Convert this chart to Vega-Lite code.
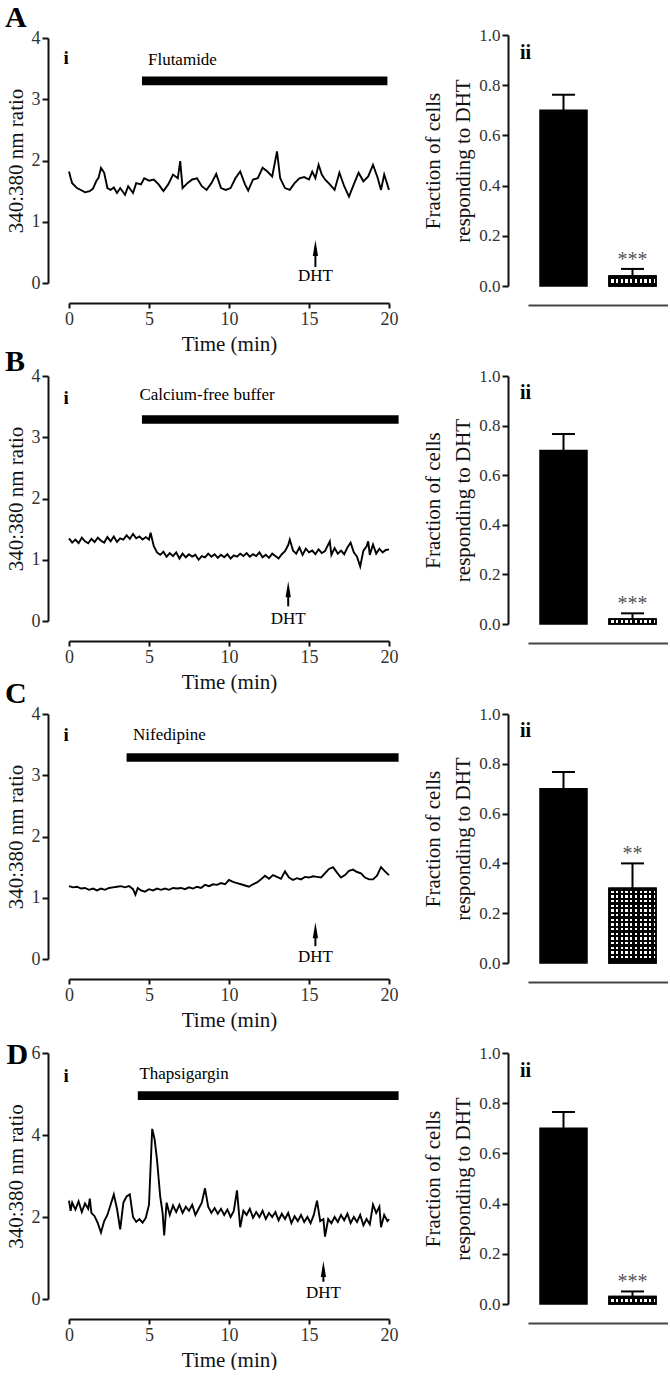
{
"$schema": "https://vega.github.io/schema/vega-lite/v6.json",
"padding": {"left": 5, "top": 3, "right": 0, "bottom": 0},
"columns": 2,
"bounds": "flush",
"center": true,
"spacing": {"row": 90, "column": 139},
"config": {
  "font": "Liberation Serif",
  "view": {"stroke": null},
  "axis": {"grid": false, "domainColor": "#111", "tickColor": "#111", "domainWidth": 2, "tickWidth": 2, "labelColor": "#333", "titleColor": "#111", "titleFontWeight": "normal", "labelFont": "Liberation Serif", "titleFont": "Liberation Serif"},
  "text": {"font": "Liberation Serif", "color": "#000"}
},
"datasets": {
  "treat": [
    {"panel": "A", "drug": "Flutamide", "start": 4.56, "end": 19.9, "dht": 15.4},
    {"panel": "B", "drug": "Calcium-free buffer", "start": 4.56, "end": 20.6, "dht": 13.7},
    {"panel": "C", "drug": "Nifedipine", "start": 3.6, "end": 20.6, "dht": 15.4},
    {"panel": "D", "drug": "Thapsigargin", "start": 4.3, "end": 20.6, "dht": 15.9}
  ],
  "bars": [
    {"panel": "A", "group": "Control", "value": 0.70, "upper": 0.762, "sig": ""},
    {"panel": "A", "group": "Treated", "value": 0.04, "upper": 0.068, "sig": "***"},
    {"panel": "B", "group": "Control", "value": 0.70, "upper": 0.766, "sig": ""},
    {"panel": "B", "group": "Treated", "value": 0.02, "upper": 0.043, "sig": "***"},
    {"panel": "C", "group": "Control", "value": 0.70, "upper": 0.767, "sig": ""},
    {"panel": "C", "group": "Treated", "value": 0.30, "upper": 0.40, "sig": "**"},
    {"panel": "D", "group": "Control", "value": 0.70, "upper": 0.765, "sig": ""},
    {"panel": "D", "group": "Treated", "value": 0.03, "upper": 0.05, "sig": "***"}
  ],
  "traceA": [
    {"t":0,"r":1.82},{"t":0.1,"r":1.72},{"t":0.2,"r":1.63},{"t":0.5,"r":1.55},{"t":0.8,"r":1.51},{"t":1.0,"r":1.48},{"t":1.3,"r":1.50},{"t":1.5,"r":1.54},{"t":1.7,"r":1.66},{"t":1.85,"r":1.72},{"t":2.0,"r":1.88},{"t":2.2,"r":1.80},{"t":2.4,"r":1.55},{"t":2.6,"r":1.52},{"t":2.8,"r":1.56},{"t":3.0,"r":1.47},{"t":3.2,"r":1.55},{"t":3.5,"r":1.44},{"t":3.7,"r":1.58},{"t":4.0,"r":1.47},{"t":4.2,"r":1.63},{"t":4.5,"r":1.61},{"t":4.7,"r":1.71},{"t":5.0,"r":1.67},{"t":5.3,"r":1.69},{"t":5.6,"r":1.61},{"t":5.9,"r":1.50},{"t":6.2,"r":1.61},{"t":6.5,"r":1.77},{"t":6.8,"r":1.71},{"t":6.95,"r":1.99},{"t":7.1,"r":1.55},{"t":7.4,"r":1.63},{"t":7.7,"r":1.69},{"t":8.0,"r":1.71},{"t":8.3,"r":1.58},{"t":8.6,"r":1.52},{"t":8.9,"r":1.63},{"t":9.2,"r":1.78},{"t":9.5,"r":1.55},{"t":9.8,"r":1.52},{"t":10.1,"r":1.55},{"t":10.4,"r":1.71},{"t":10.7,"r":1.82},{"t":11.0,"r":1.61},{"t":11.2,"r":1.51},{"t":11.5,"r":1.69},{"t":11.8,"r":1.71},{"t":12.1,"r":1.88},{"t":12.4,"r":1.82},{"t":12.7,"r":1.74},{"t":13.0,"r":2.15},{"t":13.2,"r":1.71},{"t":13.5,"r":1.55},{"t":13.8,"r":1.52},{"t":14.1,"r":1.63},{"t":14.4,"r":1.71},{"t":14.7,"r":1.73},{"t":15.0,"r":1.69},{"t":15.2,"r":1.82},{"t":15.4,"r":1.71},{"t":15.6,"r":1.93},{"t":15.8,"r":1.77},{"t":16.0,"r":1.69},{"t":16.3,"r":1.61},{"t":16.6,"r":1.52},{"t":16.9,"r":1.80},{"t":17.2,"r":1.58},{"t":17.5,"r":1.41},{"t":17.8,"r":1.61},{"t":18.1,"r":1.80},{"t":18.4,"r":1.66},{"t":18.7,"r":1.74},{"t":19.0,"r":1.93},{"t":19.3,"r":1.71},{"t":19.5,"r":1.52},{"t":19.7,"r":1.77},{"t":20.0,"r":1.52}
  ],
  "traceB": [
    {"t":0,"r":1.35},{"t":0.2,"r":1.28},{"t":0.4,"r":1.33},{"t":0.6,"r":1.27},{"t":0.8,"r":1.36},{"t":1.0,"r":1.30},{"t":1.2,"r":1.27},{"t":1.4,"r":1.34},{"t":1.6,"r":1.29},{"t":1.8,"r":1.36},{"t":2.0,"r":1.31},{"t":2.2,"r":1.28},{"t":2.4,"r":1.37},{"t":2.6,"r":1.30},{"t":2.8,"r":1.38},{"t":3.0,"r":1.29},{"t":3.2,"r":1.35},{"t":3.4,"r":1.33},{"t":3.6,"r":1.40},{"t":3.8,"r":1.34},{"t":4.0,"r":1.42},{"t":4.2,"r":1.35},{"t":4.4,"r":1.38},{"t":4.6,"r":1.33},{"t":4.8,"r":1.37},{"t":5.0,"r":1.33},{"t":5.1,"r":1.44},{"t":5.3,"r":1.22},{"t":5.5,"r":1.12},{"t":5.7,"r":1.08},{"t":5.9,"r":1.13},{"t":6.1,"r":1.05},{"t":6.3,"r":1.11},{"t":6.5,"r":1.06},{"t":6.7,"r":1.12},{"t":6.9,"r":1.02},{"t":7.1,"r":1.10},{"t":7.3,"r":1.04},{"t":7.5,"r":1.09},{"t":7.7,"r":1.05},{"t":7.9,"r":1.08},{"t":8.1,"r":1.00},{"t":8.3,"r":1.06},{"t":8.5,"r":1.04},{"t":8.7,"r":1.10},{"t":8.9,"r":1.05},{"t":9.1,"r":1.09},{"t":9.3,"r":1.03},{"t":9.5,"r":1.08},{"t":9.7,"r":1.04},{"t":9.9,"r":1.09},{"t":10.1,"r":1.02},{"t":10.3,"r":1.07},{"t":10.5,"r":1.05},{"t":10.7,"r":1.10},{"t":10.9,"r":1.06},{"t":11.1,"r":1.11},{"t":11.3,"r":1.05},{"t":11.5,"r":1.09},{"t":11.7,"r":1.06},{"t":11.9,"r":1.12},{"t":12.1,"r":1.04},{"t":12.3,"r":1.08},{"t":12.5,"r":1.03},{"t":12.7,"r":1.10},{"t":12.9,"r":1.06},{"t":13.1,"r":1.02},{"t":13.3,"r":1.09},{"t":13.5,"r":1.14},{"t":13.7,"r":1.24},{"t":13.8,"r":1.33},{"t":14.0,"r":1.15},{"t":14.2,"r":1.10},{"t":14.4,"r":1.20},{"t":14.6,"r":1.08},{"t":14.8,"r":1.18},{"t":15.0,"r":1.12},{"t":15.2,"r":1.15},{"t":15.4,"r":1.09},{"t":15.6,"r":1.17},{"t":15.8,"r":1.11},{"t":16.0,"r":1.14},{"t":16.3,"r":1.30},{"t":16.4,"r":1.08},{"t":16.6,"r":1.19},{"t":16.8,"r":1.10},{"t":17.0,"r":1.15},{"t":17.2,"r":1.09},{"t":17.4,"r":1.20},{"t":17.6,"r":1.28},{"t":17.8,"r":1.12},{"t":18.0,"r":1.05},{"t":18.2,"r":0.89},{"t":18.4,"r":1.15},{"t":18.6,"r":1.22},{"t":18.7,"r":1.30},{"t":18.8,"r":1.08},{"t":19.0,"r":1.25},{"t":19.2,"r":1.10},{"t":19.4,"r":1.18},{"t":19.6,"r":1.12},{"t":19.8,"r":1.16},{"t":20.0,"r":1.17}
  ],
  "traceC": [
    {"t":0,"r":1.19},{"t":0.25,"r":1.17},{"t":0.5,"r":1.18},{"t":0.75,"r":1.15},{"t":1.0,"r":1.16},{"t":1.25,"r":1.13},{"t":1.5,"r":1.15},{"t":1.75,"r":1.12},{"t":2.0,"r":1.15},{"t":2.25,"r":1.13},{"t":2.5,"r":1.16},{"t":2.75,"r":1.17},{"t":3.0,"r":1.18},{"t":3.25,"r":1.19},{"t":3.5,"r":1.17},{"t":3.75,"r":1.19},{"t":4.0,"r":1.14},{"t":4.15,"r":1.05},{"t":4.3,"r":1.16},{"t":4.5,"r":1.12},{"t":4.75,"r":1.10},{"t":5.0,"r":1.14},{"t":5.25,"r":1.12},{"t":5.5,"r":1.15},{"t":5.75,"r":1.13},{"t":6.0,"r":1.15},{"t":6.25,"r":1.13},{"t":6.5,"r":1.16},{"t":6.75,"r":1.15},{"t":7.0,"r":1.16},{"t":7.25,"r":1.14},{"t":7.5,"r":1.17},{"t":7.75,"r":1.15},{"t":8.0,"r":1.18},{"t":8.25,"r":1.16},{"t":8.5,"r":1.21},{"t":8.75,"r":1.19},{"t":9.0,"r":1.22},{"t":9.25,"r":1.21},{"t":9.5,"r":1.24},{"t":9.75,"r":1.22},{"t":10.0,"r":1.29},{"t":10.25,"r":1.26},{"t":10.5,"r":1.24},{"t":10.75,"r":1.22},{"t":11.0,"r":1.20},{"t":11.25,"r":1.18},{"t":11.5,"r":1.22},{"t":11.75,"r":1.25},{"t":12.0,"r":1.30},{"t":12.25,"r":1.36},{"t":12.5,"r":1.31},{"t":12.75,"r":1.37},{"t":13.0,"r":1.34},{"t":13.25,"r":1.31},{"t":13.5,"r":1.43},{"t":13.75,"r":1.33},{"t":14.0,"r":1.29},{"t":14.25,"r":1.32},{"t":14.5,"r":1.30},{"t":14.75,"r":1.34},{"t":15.0,"r":1.33},{"t":15.25,"r":1.35},{"t":15.5,"r":1.34},{"t":15.75,"r":1.33},{"t":16.0,"r":1.40},{"t":16.25,"r":1.47},{"t":16.5,"r":1.50},{"t":16.75,"r":1.41},{"t":17.0,"r":1.33},{"t":17.25,"r":1.37},{"t":17.5,"r":1.44},{"t":17.75,"r":1.46},{"t":18.0,"r":1.42},{"t":18.25,"r":1.40},{"t":18.5,"r":1.33},{"t":18.75,"r":1.30},{"t":19.0,"r":1.30},{"t":19.25,"r":1.36},{"t":19.5,"r":1.50},{"t":19.75,"r":1.43},{"t":20.0,"r":1.37}
  ],
  "traceD": [
    {"t":0,"r":2.40},{"t":0.1,"r":2.15},{"t":0.2,"r":2.35},{"t":0.4,"r":2.18},{"t":0.6,"r":2.38},{"t":0.8,"r":2.12},{"t":1.0,"r":2.33},{"t":1.2,"r":2.20},{"t":1.3,"r":2.45},{"t":1.4,"r":2.10},{"t":1.6,"r":2.02},{"t":1.8,"r":1.85},{"t":2.0,"r":1.62},{"t":2.2,"r":1.90},{"t":2.4,"r":2.05},{"t":2.6,"r":2.30},{"t":2.8,"r":2.55},{"t":3.0,"r":2.20},{"t":3.2,"r":1.70},{"t":3.4,"r":2.35},{"t":3.6,"r":2.50},{"t":3.8,"r":2.55},{"t":4.0,"r":2.00},{"t":4.2,"r":1.88},{"t":4.4,"r":1.95},{"t":4.6,"r":1.86},{"t":4.8,"r":1.98},{"t":5.0,"r":2.30},{"t":5.2,"r":4.15},{"t":5.35,"r":3.90},{"t":5.5,"r":3.40},{"t":5.7,"r":2.50},{"t":5.85,"r":2.10},{"t":5.95,"r":1.55},{"t":6.1,"r":2.35},{"t":6.3,"r":2.05},{"t":6.5,"r":2.28},{"t":6.7,"r":2.12},{"t":6.9,"r":2.30},{"t":7.1,"r":2.10},{"t":7.3,"r":2.25},{"t":7.5,"r":2.15},{"t":7.7,"r":2.30},{"t":7.9,"r":2.05},{"t":8.1,"r":2.20},{"t":8.3,"r":2.35},{"t":8.5,"r":2.70},{"t":8.7,"r":2.25},{"t":8.9,"r":2.10},{"t":9.1,"r":2.22},{"t":9.3,"r":2.08},{"t":9.5,"r":2.20},{"t":9.7,"r":2.05},{"t":9.9,"r":2.18},{"t":10.1,"r":2.00},{"t":10.3,"r":2.15},{"t":10.5,"r":2.65},{"t":10.7,"r":1.75},{"t":10.9,"r":2.15},{"t":11.1,"r":2.05},{"t":11.3,"r":2.20},{"t":11.5,"r":1.98},{"t":11.7,"r":2.12},{"t":11.9,"r":2.00},{"t":12.1,"r":2.15},{"t":12.3,"r":1.95},{"t":12.5,"r":2.10},{"t":12.7,"r":2.00},{"t":12.9,"r":2.12},{"t":13.1,"r":1.92},{"t":13.3,"r":2.08},{"t":13.5,"r":1.95},{"t":13.7,"r":2.10},{"t":13.9,"r":1.85},{"t":14.1,"r":2.02},{"t":14.3,"r":1.90},{"t":14.5,"r":2.05},{"t":14.7,"r":1.88},{"t":14.9,"r":2.00},{"t":15.1,"r":1.85},{"t":15.3,"r":2.05},{"t":15.5,"r":2.40},{"t":15.7,"r":1.90},{"t":15.9,"r":1.95},{"t":16.0,"r":1.52},{"t":16.2,"r":1.95},{"t":16.4,"r":1.85},{"t":16.6,"r":2.00},{"t":16.8,"r":1.88},{"t":17.0,"r":2.05},{"t":17.2,"r":1.92},{"t":17.4,"r":2.08},{"t":17.6,"r":1.85},{"t":17.8,"r":2.00},{"t":18.0,"r":1.88},{"t":18.2,"r":2.05},{"t":18.4,"r":1.80},{"t":18.6,"r":1.95},{"t":18.8,"r":1.82},{"t":19.0,"r":2.30},{"t":19.2,"r":2.10},{"t":19.4,"r":2.25},{"t":19.5,"r":1.75},{"t":19.7,"r":2.05},{"t":19.9,"r":1.90},{"t":20.0,"r":1.95}
  ]
},
"concat": [
  {
    "width": 320, "height": 245,
    "layer": [
      {"data": {"name": "traceA"}, "mark": {"type": "line", "color": "#000", "strokeWidth": 1.9},
       "encoding": {
         "x": {"field": "t", "type": "quantitative", "scale": {"domain": [0, 20], "nice": false, "zero": false}, "axis": {"values": [0, 5, 10, 15, 20], "offset": 20, "title": "Time (min)", "tickSize": 5, "labelPadding": 2, "titlePadding": 5, "labelFlush": false, "labelOverlap": false, "labelFontSize": 18, "titleFontSize": 21}},
         "y": {"field": "r", "type": "quantitative", "scale": {"domain": [0, 4], "nice": false}, "axis": {"values": [0, 1, 2, 3, 4], "format": "d", "offset": 21, "title": "340:380 nm ratio", "tickSize": 6, "labelPadding": 2, "titlePadding": 5, "labelFlush": false, "labelFontSize": 18, "titleFontSize": 21}}}},
      {"data": {"name": "treat"}, "transform": [{"filter": "datum.panel === 'A'"}],
       "layer": [
         {"mark": {"type": "rect", "color": "#000"}, "encoding": {"x": {"field": "start", "type": "quantitative"}, "x2": {"field": "end"}, "y": {"datum": 3.23}, "y2": {"datum": 3.37}}},
         {"mark": {"type": "text", "align": "left", "baseline": "middle", "fontSize": 17, "dx": 6}, "encoding": {"x": {"field": "start", "type": "quantitative"}, "y": {"datum": 3.64}, "text": {"field": "drug"}}},
         {"mark": {"type": "rule", "strokeWidth": 2, "color": "#000"}, "encoding": {"x": {"field": "dht", "type": "quantitative"}, "y": {"datum": 0.26}, "y2": {"datum": 0.57}}},
         {"mark": {"type": "point", "shape": "M0,-1L0.33,1L-0.33,1Z", "filled": true, "color": "#000", "size": 256, "opacity": 1}, "encoding": {"x": {"field": "dht", "type": "quantitative"}, "y": {"datum": 0.57}}},
         {"mark": {"type": "text", "text": "DHT", "fontSize": 17, "baseline": "middle"}, "encoding": {"x": {"field": "dht", "type": "quantitative"}, "y": {"datum": 0.11}}},
         {"mark": {"type": "text", "text": "i", "fontSize": 19, "fontWeight": "bold", "align": "left", "baseline": "middle"}, "encoding": {"x": {"datum": -0.35}, "y": {"datum": 3.67}}},
         {"mark": {"type": "text", "text": "A", "fontSize": 30, "fontWeight": "bold", "align": "left", "baseline": "middle"}, "encoding": {"x": {"datum": -4.0}, "y": {"datum": 4.32}}}
       ]}
    ]
  },
  {
    "width": 140, "height": 251,
    "data": {"name": "bars"}, "transform": [{"filter": "datum.panel === 'A'"}],
    "encoding": {"x": {"field": "group", "type": "nominal", "scale": {"domain": ["Control", "Treated"], "paddingInner": 0.319, "paddingOuter": 0.174}, "axis": {"title": null, "labels": false, "ticks": false, "domain": true, "offset": 19, "domainColor": "#444", "domainWidth": 2}}},
    "layer": [
      {"mark": {"type": "bar", "stroke": "#000", "strokeWidth": 1.5}, "encoding": {"y": {"field": "value", "type": "quantitative", "scale": {"domain": [0, 1], "nice": false}, "axis": {"values": [0, 0.2, 0.4, 0.6, 0.8, 1], "format": ".1f", "offset": 20, "title": ["Fraction of cells", "responding to DHT"], "titleLineHeight": 30, "tickSize": 6, "labelPadding": 2, "titlePadding": 5, "labelFontSize": 17, "titleFontSize": 21, "labelFlush": false}}, "color": {"field": "group", "type": "nominal", "scale": {"domain": ["Control", "Treated"], "range": ["#000", "#fff"]}, "legend": null}}},
      {"transform": [{"filter": "datum.group === 'Treated'"}], "mark": {"type": "bar", "fill": {"gradient": "linear", "x1": 0, "y1": 0, "x2": 1, "y2": 0, "stops": [{"offset": 0, "color": "#000"}, {"offset": 0.05, "color": "#000"}, {"offset": 0.05, "color": "rgba(0,0,0,0)"}, {"offset": 0.1, "color": "rgba(0,0,0,0)"}, {"offset": 0.1, "color": "#000"}, {"offset": 0.15, "color": "#000"}, {"offset": 0.15, "color": "rgba(0,0,0,0)"}, {"offset": 0.2, "color": "rgba(0,0,0,0)"}, {"offset": 0.2, "color": "#000"}, {"offset": 0.25, "color": "#000"}, {"offset": 0.25, "color": "rgba(0,0,0,0)"}, {"offset": 0.3, "color": "rgba(0,0,0,0)"}, {"offset": 0.3, "color": "#000"}, {"offset": 0.35, "color": "#000"}, {"offset": 0.35, "color": "rgba(0,0,0,0)"}, {"offset": 0.4, "color": "rgba(0,0,0,0)"}, {"offset": 0.4, "color": "#000"}, {"offset": 0.45, "color": "#000"}, {"offset": 0.45, "color": "rgba(0,0,0,0)"}, {"offset": 0.5, "color": "rgba(0,0,0,0)"}, {"offset": 0.5, "color": "#000"}, {"offset": 0.55, "color": "#000"}, {"offset": 0.55, "color": "rgba(0,0,0,0)"}, {"offset": 0.6, "color": "rgba(0,0,0,0)"}, {"offset": 0.6, "color": "#000"}, {"offset": 0.65, "color": "#000"}, {"offset": 0.65, "color": "rgba(0,0,0,0)"}, {"offset": 0.7, "color": "rgba(0,0,0,0)"}, {"offset": 0.7, "color": "#000"}, {"offset": 0.75, "color": "#000"}, {"offset": 0.75, "color": "rgba(0,0,0,0)"}, {"offset": 0.8, "color": "rgba(0,0,0,0)"}, {"offset": 0.8, "color": "#000"}, {"offset": 0.85, "color": "#000"}, {"offset": 0.85, "color": "rgba(0,0,0,0)"}, {"offset": 0.9, "color": "rgba(0,0,0,0)"}, {"offset": 0.9, "color": "#000"}, {"offset": 0.95, "color": "#000"}, {"offset": 0.95, "color": "rgba(0,0,0,0)"}, {"offset": 1, "color": "rgba(0,0,0,0)"}]}}, "encoding": {"y": {"field": "value", "type": "quantitative"}}},
      {"transform": [{"filter": "datum.group === 'Treated'"}], "mark": {"type": "bar", "stroke": "#000", "strokeWidth": 1.5, "fill": {"gradient": "linear", "x1": 0, "y1": 0, "x2": 0, "y2": 1, "stops": [{"offset": 0, "color": "#000"}, {"offset": 0.3, "color": "#000"}, {"offset": 0.3, "color": "rgba(0,0,0,0)"}, {"offset": 0.7, "color": "rgba(0,0,0,0)"}, {"offset": 0.7, "color": "#000"}, {"offset": 1, "color": "#000"}]}}, "encoding": {"y": {"field": "value", "type": "quantitative"}}},
      {"mark": {"type": "rule", "strokeWidth": 2, "color": "#000"}, "encoding": {"y": {"field": "value", "type": "quantitative"}, "y2": {"field": "upper"}}},
      {"mark": {"type": "tick", "size": 23, "thickness": 2, "color": "#000", "opacity": 1}, "encoding": {"y": {"field": "upper", "type": "quantitative"}}},
      {"transform": [{"filter": "datum.sig != ''"}], "mark": {"type": "text", "fontSize": 20, "color": "#555", "baseline": "alphabetic", "dy": -3}, "encoding": {"y": {"field": "upper", "type": "quantitative"}, "text": {"field": "sig"}}},
      {"transform": [{"filter": "datum.group === 'Control'"}], "mark": {"type": "text", "text": "ii", "fontSize": 20, "fontWeight": "bold", "align": "left", "baseline": "middle", "dx": -43.5}, "encoding": {"y": {"datum": 0.93}}}
    ]
  },
  {
    "width": 320, "height": 245,
    "layer": [
      {"data": {"name": "traceB"}, "mark": {"type": "line", "color": "#000", "strokeWidth": 1.9},
       "encoding": {
         "x": {"field": "t", "type": "quantitative", "scale": {"domain": [0, 20], "nice": false, "zero": false}, "axis": {"values": [0, 5, 10, 15, 20], "offset": 20, "title": "Time (min)", "tickSize": 5, "labelPadding": 2, "titlePadding": 5, "labelFlush": false, "labelOverlap": false, "labelFontSize": 18, "titleFontSize": 21}},
         "y": {"field": "r", "type": "quantitative", "scale": {"domain": [0, 4], "nice": false}, "axis": {"values": [0, 1, 2, 3, 4], "format": "d", "offset": 21, "title": "340:380 nm ratio", "tickSize": 6, "labelPadding": 2, "titlePadding": 5, "labelFlush": false, "labelFontSize": 18, "titleFontSize": 21}}}},
      {"data": {"name": "treat"}, "transform": [{"filter": "datum.panel === 'B'"}],
       "layer": [
         {"mark": {"type": "rect", "color": "#000"}, "encoding": {"x": {"field": "start", "type": "quantitative"}, "x2": {"field": "end"}, "y": {"datum": 3.22}, "y2": {"datum": 3.36}}},
         {"mark": {"type": "text", "align": "left", "baseline": "middle", "fontSize": 17, "dx": -2.5}, "encoding": {"x": {"field": "start", "type": "quantitative"}, "y": {"datum": 3.69}, "text": {"field": "drug"}}},
         {"mark": {"type": "rule", "strokeWidth": 2, "color": "#000"}, "encoding": {"x": {"field": "dht", "type": "quantitative"}, "y": {"datum": 0.24}, "y2": {"datum": 0.52}}},
         {"mark": {"type": "point", "shape": "M0,-1L0.33,1L-0.33,1Z", "filled": true, "color": "#000", "size": 256, "opacity": 1}, "encoding": {"x": {"field": "dht", "type": "quantitative"}, "y": {"datum": 0.52}}},
         {"mark": {"type": "text", "text": "DHT", "fontSize": 17, "baseline": "middle"}, "encoding": {"x": {"field": "dht", "type": "quantitative"}, "y": {"datum": 0.03}}},
         {"mark": {"type": "text", "text": "i", "fontSize": 19, "fontWeight": "bold", "align": "left", "baseline": "middle"}, "encoding": {"x": {"datum": -0.35}, "y": {"datum": 3.64}}},
         {"mark": {"type": "text", "text": "B", "fontSize": 30, "fontWeight": "bold", "align": "left", "baseline": "middle"}, "encoding": {"x": {"datum": -4.0}, "y": {"datum": 4.23}}}
       ]}
    ]
  },
  {
    "width": 140, "height": 248,
    "data": {"name": "bars"}, "transform": [{"filter": "datum.panel === 'B'"}],
    "encoding": {"x": {"field": "group", "type": "nominal", "scale": {"domain": ["Control", "Treated"], "paddingInner": 0.319, "paddingOuter": 0.174}, "axis": {"title": null, "labels": false, "ticks": false, "domain": true, "offset": 19, "domainColor": "#444", "domainWidth": 2}}},
    "layer": [
      {"mark": {"type": "bar", "stroke": "#000", "strokeWidth": 1.5}, "encoding": {"y": {"field": "value", "type": "quantitative", "scale": {"domain": [0, 1], "nice": false}, "axis": {"values": [0, 0.2, 0.4, 0.6, 0.8, 1], "format": ".1f", "offset": 20, "title": ["Fraction of cells", "responding to DHT"], "titleLineHeight": 30, "tickSize": 6, "labelPadding": 2, "titlePadding": 5, "labelFontSize": 17, "titleFontSize": 21, "labelFlush": false}}, "color": {"field": "group", "type": "nominal", "scale": {"domain": ["Control", "Treated"], "range": ["#000", "#fff"]}, "legend": null}}},
      {"transform": [{"filter": "datum.group === 'Treated'"}], "mark": {"type": "bar", "fill": {"gradient": "linear", "x1": 0, "y1": 0, "x2": 1, "y2": 0, "stops": [{"offset": 0, "color": "#000"}, {"offset": 0.05, "color": "#000"}, {"offset": 0.05, "color": "rgba(0,0,0,0)"}, {"offset": 0.1, "color": "rgba(0,0,0,0)"}, {"offset": 0.1, "color": "#000"}, {"offset": 0.15, "color": "#000"}, {"offset": 0.15, "color": "rgba(0,0,0,0)"}, {"offset": 0.2, "color": "rgba(0,0,0,0)"}, {"offset": 0.2, "color": "#000"}, {"offset": 0.25, "color": "#000"}, {"offset": 0.25, "color": "rgba(0,0,0,0)"}, {"offset": 0.3, "color": "rgba(0,0,0,0)"}, {"offset": 0.3, "color": "#000"}, {"offset": 0.35, "color": "#000"}, {"offset": 0.35, "color": "rgba(0,0,0,0)"}, {"offset": 0.4, "color": "rgba(0,0,0,0)"}, {"offset": 0.4, "color": "#000"}, {"offset": 0.45, "color": "#000"}, {"offset": 0.45, "color": "rgba(0,0,0,0)"}, {"offset": 0.5, "color": "rgba(0,0,0,0)"}, {"offset": 0.5, "color": "#000"}, {"offset": 0.55, "color": "#000"}, {"offset": 0.55, "color": "rgba(0,0,0,0)"}, {"offset": 0.6, "color": "rgba(0,0,0,0)"}, {"offset": 0.6, "color": "#000"}, {"offset": 0.65, "color": "#000"}, {"offset": 0.65, "color": "rgba(0,0,0,0)"}, {"offset": 0.7, "color": "rgba(0,0,0,0)"}, {"offset": 0.7, "color": "#000"}, {"offset": 0.75, "color": "#000"}, {"offset": 0.75, "color": "rgba(0,0,0,0)"}, {"offset": 0.8, "color": "rgba(0,0,0,0)"}, {"offset": 0.8, "color": "#000"}, {"offset": 0.85, "color": "#000"}, {"offset": 0.85, "color": "rgba(0,0,0,0)"}, {"offset": 0.9, "color": "rgba(0,0,0,0)"}, {"offset": 0.9, "color": "#000"}, {"offset": 0.95, "color": "#000"}, {"offset": 0.95, "color": "rgba(0,0,0,0)"}, {"offset": 1, "color": "rgba(0,0,0,0)"}]}}, "encoding": {"y": {"field": "value", "type": "quantitative"}}},
      {"transform": [{"filter": "datum.group === 'Treated'"}], "mark": {"type": "bar", "stroke": "#000", "strokeWidth": 1.5, "fill": {"gradient": "linear", "x1": 0, "y1": 0, "x2": 0, "y2": 1, "stops": [{"offset": 0, "color": "#000"}, {"offset": 0.25, "color": "#000"}, {"offset": 0.25, "color": "rgba(0,0,0,0)"}, {"offset": 0.75, "color": "rgba(0,0,0,0)"}, {"offset": 0.75, "color": "#000"}, {"offset": 1, "color": "#000"}]}}, "encoding": {"y": {"field": "value", "type": "quantitative"}}},
      {"mark": {"type": "rule", "strokeWidth": 2, "color": "#000"}, "encoding": {"y": {"field": "value", "type": "quantitative"}, "y2": {"field": "upper"}}},
      {"mark": {"type": "tick", "size": 23, "thickness": 2, "color": "#000", "opacity": 1}, "encoding": {"y": {"field": "upper", "type": "quantitative"}}},
      {"transform": [{"filter": "datum.sig != ''"}], "mark": {"type": "text", "fontSize": 20, "color": "#555", "baseline": "alphabetic", "dy": -3}, "encoding": {"y": {"field": "upper", "type": "quantitative"}, "text": {"field": "sig"}}},
      {"transform": [{"filter": "datum.group === 'Control'"}], "mark": {"type": "text", "text": "ii", "fontSize": 20, "fontWeight": "bold", "align": "left", "baseline": "middle", "dx": -43.5}, "encoding": {"y": {"datum": 0.93}}}
    ]
  },
  {
    "width": 320, "height": 245,
    "layer": [
      {"data": {"name": "traceC"}, "mark": {"type": "line", "color": "#000", "strokeWidth": 1.9},
       "encoding": {
         "x": {"field": "t", "type": "quantitative", "scale": {"domain": [0, 20], "nice": false, "zero": false}, "axis": {"values": [0, 5, 10, 15, 20], "offset": 20, "title": "Time (min)", "tickSize": 5, "labelPadding": 2, "titlePadding": 5, "labelFlush": false, "labelOverlap": false, "labelFontSize": 18, "titleFontSize": 21}},
         "y": {"field": "r", "type": "quantitative", "scale": {"domain": [0, 4], "nice": false}, "axis": {"values": [0, 1, 2, 3, 4], "format": "d", "offset": 21, "title": "340:380 nm ratio", "tickSize": 6, "labelPadding": 2, "titlePadding": 5, "labelFlush": false, "labelFontSize": 18, "titleFontSize": 21}}}},
      {"data": {"name": "treat"}, "transform": [{"filter": "datum.panel === 'C'"}],
       "layer": [
         {"mark": {"type": "rect", "color": "#000"}, "encoding": {"x": {"field": "start", "type": "quantitative"}, "x2": {"field": "end"}, "y": {"datum": 3.22}, "y2": {"datum": 3.36}}},
         {"mark": {"type": "text", "align": "left", "baseline": "middle", "fontSize": 17, "dx": 6.4}, "encoding": {"x": {"field": "start", "type": "quantitative"}, "y": {"datum": 3.66}, "text": {"field": "drug"}}},
         {"mark": {"type": "rule", "strokeWidth": 2, "color": "#000"}, "encoding": {"x": {"field": "dht", "type": "quantitative"}, "y": {"datum": 0.21}, "y2": {"datum": 0.47}}},
         {"mark": {"type": "point", "shape": "M0,-1L0.33,1L-0.33,1Z", "filled": true, "color": "#000", "size": 256, "opacity": 1}, "encoding": {"x": {"field": "dht", "type": "quantitative"}, "y": {"datum": 0.47}}},
         {"mark": {"type": "text", "text": "DHT", "fontSize": 17, "baseline": "middle"}, "encoding": {"x": {"field": "dht", "type": "quantitative"}, "y": {"datum": 0.03}}},
         {"mark": {"type": "text", "text": "i", "fontSize": 19, "fontWeight": "bold", "align": "left", "baseline": "middle"}, "encoding": {"x": {"datum": -0.35}, "y": {"datum": 3.66}}},
         {"mark": {"type": "text", "text": "C", "fontSize": 30, "fontWeight": "bold", "align": "left", "baseline": "middle"}, "encoding": {"x": {"datum": -4.0}, "y": {"datum": 4.33}}}
       ]}
    ]
  },
  {
    "width": 140, "height": 249,
    "data": {"name": "bars"}, "transform": [{"filter": "datum.panel === 'C'"}],
    "encoding": {"x": {"field": "group", "type": "nominal", "scale": {"domain": ["Control", "Treated"], "paddingInner": 0.319, "paddingOuter": 0.174}, "axis": {"title": null, "labels": false, "ticks": false, "domain": true, "offset": 19, "domainColor": "#444", "domainWidth": 2}}},
    "layer": [
      {"mark": {"type": "bar", "stroke": "#000", "strokeWidth": 1.5}, "encoding": {"y": {"field": "value", "type": "quantitative", "scale": {"domain": [0, 1], "nice": false}, "axis": {"values": [0, 0.2, 0.4, 0.6, 0.8, 1], "format": ".1f", "offset": 20, "title": ["Fraction of cells", "responding to DHT"], "titleLineHeight": 30, "tickSize": 6, "labelPadding": 2, "titlePadding": 5, "labelFontSize": 17, "titleFontSize": 21, "labelFlush": false}}, "color": {"field": "group", "type": "nominal", "scale": {"domain": ["Control", "Treated"], "range": ["#000", "#fff"]}, "legend": null}}},
      {"transform": [{"filter": "datum.group === 'Treated'"}], "mark": {"type": "bar", "fill": {"gradient": "linear", "x1": 0, "y1": 0, "x2": 1, "y2": 0, "stops": [{"offset": 0, "color": "#000"}, {"offset": 0.05, "color": "#000"}, {"offset": 0.05, "color": "rgba(0,0,0,0)"}, {"offset": 0.1, "color": "rgba(0,0,0,0)"}, {"offset": 0.1, "color": "#000"}, {"offset": 0.15, "color": "#000"}, {"offset": 0.15, "color": "rgba(0,0,0,0)"}, {"offset": 0.2, "color": "rgba(0,0,0,0)"}, {"offset": 0.2, "color": "#000"}, {"offset": 0.25, "color": "#000"}, {"offset": 0.25, "color": "rgba(0,0,0,0)"}, {"offset": 0.3, "color": "rgba(0,0,0,0)"}, {"offset": 0.3, "color": "#000"}, {"offset": 0.35, "color": "#000"}, {"offset": 0.35, "color": "rgba(0,0,0,0)"}, {"offset": 0.4, "color": "rgba(0,0,0,0)"}, {"offset": 0.4, "color": "#000"}, {"offset": 0.45, "color": "#000"}, {"offset": 0.45, "color": "rgba(0,0,0,0)"}, {"offset": 0.5, "color": "rgba(0,0,0,0)"}, {"offset": 0.5, "color": "#000"}, {"offset": 0.55, "color": "#000"}, {"offset": 0.55, "color": "rgba(0,0,0,0)"}, {"offset": 0.6, "color": "rgba(0,0,0,0)"}, {"offset": 0.6, "color": "#000"}, {"offset": 0.65, "color": "#000"}, {"offset": 0.65, "color": "rgba(0,0,0,0)"}, {"offset": 0.7, "color": "rgba(0,0,0,0)"}, {"offset": 0.7, "color": "#000"}, {"offset": 0.75, "color": "#000"}, {"offset": 0.75, "color": "rgba(0,0,0,0)"}, {"offset": 0.8, "color": "rgba(0,0,0,0)"}, {"offset": 0.8, "color": "#000"}, {"offset": 0.85, "color": "#000"}, {"offset": 0.85, "color": "rgba(0,0,0,0)"}, {"offset": 0.9, "color": "rgba(0,0,0,0)"}, {"offset": 0.9, "color": "#000"}, {"offset": 0.95, "color": "#000"}, {"offset": 0.95, "color": "rgba(0,0,0,0)"}, {"offset": 1, "color": "rgba(0,0,0,0)"}]}}, "encoding": {"y": {"field": "value", "type": "quantitative"}}},
      {"transform": [{"filter": "datum.group === 'Treated'"}], "mark": {"type": "bar", "stroke": "#000", "strokeWidth": 1.5, "fill": {"gradient": "linear", "x1": 0, "y1": 0, "x2": 0, "y2": 1, "stops": [{"offset": 0, "color": "#000"}, {"offset": 0.03125, "color": "#000"}, {"offset": 0.03125, "color": "rgba(0,0,0,0)"}, {"offset": 0.0625, "color": "rgba(0,0,0,0)"}, {"offset": 0.0625, "color": "#000"}, {"offset": 0.09375, "color": "#000"}, {"offset": 0.09375, "color": "rgba(0,0,0,0)"}, {"offset": 0.125, "color": "rgba(0,0,0,0)"}, {"offset": 0.125, "color": "#000"}, {"offset": 0.15625, "color": "#000"}, {"offset": 0.15625, "color": "rgba(0,0,0,0)"}, {"offset": 0.1875, "color": "rgba(0,0,0,0)"}, {"offset": 0.1875, "color": "#000"}, {"offset": 0.21875, "color": "#000"}, {"offset": 0.21875, "color": "rgba(0,0,0,0)"}, {"offset": 0.25, "color": "rgba(0,0,0,0)"}, {"offset": 0.25, "color": "#000"}, {"offset": 0.28125, "color": "#000"}, {"offset": 0.28125, "color": "rgba(0,0,0,0)"}, {"offset": 0.3125, "color": "rgba(0,0,0,0)"}, {"offset": 0.3125, "color": "#000"}, {"offset": 0.34375, "color": "#000"}, {"offset": 0.34375, "color": "rgba(0,0,0,0)"}, {"offset": 0.375, "color": "rgba(0,0,0,0)"}, {"offset": 0.375, "color": "#000"}, {"offset": 0.40625, "color": "#000"}, {"offset": 0.40625, "color": "rgba(0,0,0,0)"}, {"offset": 0.4375, "color": "rgba(0,0,0,0)"}, {"offset": 0.4375, "color": "#000"}, {"offset": 0.46875, "color": "#000"}, {"offset": 0.46875, "color": "rgba(0,0,0,0)"}, {"offset": 0.5, "color": "rgba(0,0,0,0)"}, {"offset": 0.5, "color": "#000"}, {"offset": 0.53125, "color": "#000"}, {"offset": 0.53125, "color": "rgba(0,0,0,0)"}, {"offset": 0.5625, "color": "rgba(0,0,0,0)"}, {"offset": 0.5625, "color": "#000"}, {"offset": 0.59375, "color": "#000"}, {"offset": 0.59375, "color": "rgba(0,0,0,0)"}, {"offset": 0.625, "color": "rgba(0,0,0,0)"}, {"offset": 0.625, "color": "#000"}, {"offset": 0.65625, "color": "#000"}, {"offset": 0.65625, "color": "rgba(0,0,0,0)"}, {"offset": 0.6875, "color": "rgba(0,0,0,0)"}, {"offset": 0.6875, "color": "#000"}, {"offset": 0.71875, "color": "#000"}, {"offset": 0.71875, "color": "rgba(0,0,0,0)"}, {"offset": 0.75, "color": "rgba(0,0,0,0)"}, {"offset": 0.75, "color": "#000"}, {"offset": 0.78125, "color": "#000"}, {"offset": 0.78125, "color": "rgba(0,0,0,0)"}, {"offset": 0.8125, "color": "rgba(0,0,0,0)"}, {"offset": 0.8125, "color": "#000"}, {"offset": 0.84375, "color": "#000"}, {"offset": 0.84375, "color": "rgba(0,0,0,0)"}, {"offset": 0.875, "color": "rgba(0,0,0,0)"}, {"offset": 0.875, "color": "#000"}, {"offset": 0.90625, "color": "#000"}, {"offset": 0.90625, "color": "rgba(0,0,0,0)"}, {"offset": 0.9375, "color": "rgba(0,0,0,0)"}, {"offset": 0.9375, "color": "#000"}, {"offset": 1, "color": "#000"}]}}, "encoding": {"y": {"field": "value", "type": "quantitative"}}},
      {"mark": {"type": "rule", "strokeWidth": 2, "color": "#000"}, "encoding": {"y": {"field": "value", "type": "quantitative"}, "y2": {"field": "upper"}}},
      {"mark": {"type": "tick", "size": 23, "thickness": 2, "color": "#000", "opacity": 1}, "encoding": {"y": {"field": "upper", "type": "quantitative"}}},
      {"transform": [{"filter": "datum.sig != ''"}], "mark": {"type": "text", "fontSize": 20, "color": "#555", "baseline": "alphabetic", "dy": -3}, "encoding": {"y": {"field": "upper", "type": "quantitative"}, "text": {"field": "sig"}}},
      {"transform": [{"filter": "datum.group === 'Control'"}], "mark": {"type": "text", "text": "ii", "fontSize": 20, "fontWeight": "bold", "align": "left", "baseline": "middle", "dx": -43.5}, "encoding": {"y": {"datum": 0.93}}}
    ]
  },
  {
    "width": 320, "height": 246,
    "layer": [
      {"data": {"name": "traceD"}, "mark": {"type": "line", "color": "#000", "strokeWidth": 1.9},
       "encoding": {
         "x": {"field": "t", "type": "quantitative", "scale": {"domain": [0, 20], "nice": false, "zero": false}, "axis": {"values": [0, 5, 10, 15, 20], "offset": 20, "title": "Time (min)", "tickSize": 5, "labelPadding": 2, "titlePadding": 5, "labelFlush": false, "labelOverlap": false, "labelFontSize": 18, "titleFontSize": 21}},
         "y": {"field": "r", "type": "quantitative", "scale": {"domain": [0, 6], "nice": false}, "axis": {"values": [0, 2, 4, 6], "format": "d", "offset": 21, "title": "340:380 nm ratio", "tickSize": 6, "labelPadding": 2, "titlePadding": 5, "labelFlush": false, "labelFontSize": 18, "titleFontSize": 21}}}},
      {"data": {"name": "treat"}, "transform": [{"filter": "datum.panel === 'D'"}],
       "layer": [
         {"mark": {"type": "rect", "color": "#000"}, "encoding": {"x": {"field": "start", "type": "quantitative"}, "x2": {"field": "end"}, "y": {"datum": 4.855}, "y2": {"datum": 5.065}}},
         {"mark": {"type": "text", "align": "left", "baseline": "middle", "fontSize": 17, "dx": 1.6}, "encoding": {"x": {"field": "start", "type": "quantitative"}, "y": {"datum": 5.49}, "text": {"field": "drug"}}},
         {"mark": {"type": "rule", "strokeWidth": 2, "color": "#000"}, "encoding": {"x": {"field": "dht", "type": "quantitative"}, "y": {"datum": 0.42}, "y2": {"datum": 0.73}}},
         {"mark": {"type": "point", "shape": "M0,-1L0.33,1L-0.33,1Z", "filled": true, "color": "#000", "size": 256, "opacity": 1}, "encoding": {"x": {"field": "dht", "type": "quantitative"}, "y": {"datum": 0.73}}},
         {"mark": {"type": "text", "text": "DHT", "fontSize": 17, "baseline": "middle"}, "encoding": {"x": {"field": "dht", "type": "quantitative"}, "y": {"datum": 0.15}}},
         {"mark": {"type": "text", "text": "i", "fontSize": 19, "fontWeight": "bold", "align": "left", "baseline": "middle"}, "encoding": {"x": {"datum": -0.35}, "y": {"datum": 5.44}}},
         {"mark": {"type": "text", "text": "D", "fontSize": 30, "fontWeight": "bold", "align": "left", "baseline": "middle"}, "encoding": {"x": {"datum": -3.9}, "y": {"datum": 5.95}}}
       ]}
    ]
  },
  {
    "width": 140, "height": 251,
    "data": {"name": "bars"}, "transform": [{"filter": "datum.panel === 'D'"}],
    "encoding": {"x": {"field": "group", "type": "nominal", "scale": {"domain": ["Control", "Treated"], "paddingInner": 0.319, "paddingOuter": 0.174}, "axis": {"title": null, "labels": false, "ticks": false, "domain": true, "offset": 19, "domainColor": "#444", "domainWidth": 2}}},
    "layer": [
      {"mark": {"type": "bar", "stroke": "#000", "strokeWidth": 1.5}, "encoding": {"y": {"field": "value", "type": "quantitative", "scale": {"domain": [0, 1], "nice": false}, "axis": {"values": [0, 0.2, 0.4, 0.6, 0.8, 1], "format": ".1f", "offset": 20, "title": ["Fraction of cells", "responding to DHT"], "titleLineHeight": 30, "tickSize": 6, "labelPadding": 2, "titlePadding": 5, "labelFontSize": 17, "titleFontSize": 21, "labelFlush": false}}, "color": {"field": "group", "type": "nominal", "scale": {"domain": ["Control", "Treated"], "range": ["#000", "#fff"]}, "legend": null}}},
      {"transform": [{"filter": "datum.group === 'Treated'"}], "mark": {"type": "bar", "fill": {"gradient": "linear", "x1": 0, "y1": 0, "x2": 1, "y2": 0, "stops": [{"offset": 0, "color": "#000"}, {"offset": 0.05, "color": "#000"}, {"offset": 0.05, "color": "rgba(0,0,0,0)"}, {"offset": 0.1, "color": "rgba(0,0,0,0)"}, {"offset": 0.1, "color": "#000"}, {"offset": 0.15, "color": "#000"}, {"offset": 0.15, "color": "rgba(0,0,0,0)"}, {"offset": 0.2, "color": "rgba(0,0,0,0)"}, {"offset": 0.2, "color": "#000"}, {"offset": 0.25, "color": "#000"}, {"offset": 0.25, "color": "rgba(0,0,0,0)"}, {"offset": 0.3, "color": "rgba(0,0,0,0)"}, {"offset": 0.3, "color": "#000"}, {"offset": 0.35, "color": "#000"}, {"offset": 0.35, "color": "rgba(0,0,0,0)"}, {"offset": 0.4, "color": "rgba(0,0,0,0)"}, {"offset": 0.4, "color": "#000"}, {"offset": 0.45, "color": "#000"}, {"offset": 0.45, "color": "rgba(0,0,0,0)"}, {"offset": 0.5, "color": "rgba(0,0,0,0)"}, {"offset": 0.5, "color": "#000"}, {"offset": 0.55, "color": "#000"}, {"offset": 0.55, "color": "rgba(0,0,0,0)"}, {"offset": 0.6, "color": "rgba(0,0,0,0)"}, {"offset": 0.6, "color": "#000"}, {"offset": 0.65, "color": "#000"}, {"offset": 0.65, "color": "rgba(0,0,0,0)"}, {"offset": 0.7, "color": "rgba(0,0,0,0)"}, {"offset": 0.7, "color": "#000"}, {"offset": 0.75, "color": "#000"}, {"offset": 0.75, "color": "rgba(0,0,0,0)"}, {"offset": 0.8, "color": "rgba(0,0,0,0)"}, {"offset": 0.8, "color": "#000"}, {"offset": 0.85, "color": "#000"}, {"offset": 0.85, "color": "rgba(0,0,0,0)"}, {"offset": 0.9, "color": "rgba(0,0,0,0)"}, {"offset": 0.9, "color": "#000"}, {"offset": 0.95, "color": "#000"}, {"offset": 0.95, "color": "rgba(0,0,0,0)"}, {"offset": 1, "color": "rgba(0,0,0,0)"}]}}, "encoding": {"y": {"field": "value", "type": "quantitative"}}},
      {"transform": [{"filter": "datum.group === 'Treated'"}], "mark": {"type": "bar", "stroke": "#000", "strokeWidth": 1.5, "fill": {"gradient": "linear", "x1": 0, "y1": 0, "x2": 0, "y2": 1, "stops": [{"offset": 0, "color": "#000"}, {"offset": 0.28, "color": "#000"}, {"offset": 0.28, "color": "rgba(0,0,0,0)"}, {"offset": 0.72, "color": "rgba(0,0,0,0)"}, {"offset": 0.72, "color": "#000"}, {"offset": 1, "color": "#000"}]}}, "encoding": {"y": {"field": "value", "type": "quantitative"}}},
      {"mark": {"type": "rule", "strokeWidth": 2, "color": "#000"}, "encoding": {"y": {"field": "value", "type": "quantitative"}, "y2": {"field": "upper"}}},
      {"mark": {"type": "tick", "size": 23, "thickness": 2, "color": "#000", "opacity": 1}, "encoding": {"y": {"field": "upper", "type": "quantitative"}}},
      {"transform": [{"filter": "datum.sig != ''"}], "mark": {"type": "text", "fontSize": 20, "color": "#555", "baseline": "alphabetic", "dy": -3}, "encoding": {"y": {"field": "upper", "type": "quantitative"}, "text": {"field": "sig"}}},
      {"transform": [{"filter": "datum.group === 'Control'"}], "mark": {"type": "text", "text": "ii", "fontSize": 20, "fontWeight": "bold", "align": "left", "baseline": "middle", "dx": -43.5}, "encoding": {"y": {"datum": 0.93}}}
    ]
  }
]
}
